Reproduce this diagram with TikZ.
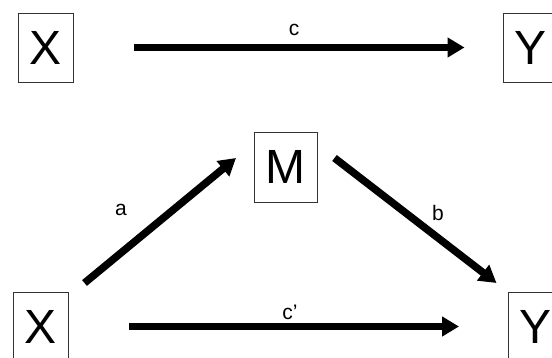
\documentclass[tikz,border=0pt]{standalone}
\usepackage{fontspec}
\setmainfont{Liberation Sans}
\usetikzlibrary{arrows.meta}
\begin{document}
\begin{tikzpicture}[x=1pt,y=-1pt,
  varbox/.style={draw=black!80,line width=0.9pt,minimum width=55pt,minimum height=69pt,inner sep=0pt,font=\fontsize{48}{48}\selectfont},
  arr/.style={line width=7.5pt,-{Triangle[length=17pt,width=19pt]}},
  lbl/.style={inner sep=0pt,font=\fontsize{21}{21}\selectfont}]
\useasboundingbox (0,0) rectangle (552,358);
\fill[white] (0,0) rectangle (552,358);
% top
\node[varbox] (X1) at (45.5,47.5) {X};
\node[varbox] (Y1) at (530.5,47.5) {Y};
\draw[arr,shorten <=61pt,shorten >=38pt] (X1) -- (Y1);
\node[lbl] (c) at (294,30) {c};
% bottom
\node[varbox,minimum width=63pt,minimum height=70pt] (M) at (285.5,167) {M};
\node[varbox] (X2) at (40.5,326.5) {X};
\node[varbox] (Y2) at (535.5,326.5) {Y};
\coordinate (a1) at (84.5,283);
\coordinate (a2) at (236,158);
\coordinate (b1) at (334.5,158);
\coordinate (b2) at (496.5,283);
\draw[arr] (a1) -- (a2);
\draw[arr] (b1) -- (b2);
\draw[arr,shorten <=61pt,shorten >=48.5pt] (X2) -- (Y2);
\node[lbl] (a) at (121,210) {a};
\node[lbl] (b) at (438,213) {b};
\node[lbl] (cp) at (290,312) {c’};
\end{tikzpicture}
\end{document}
